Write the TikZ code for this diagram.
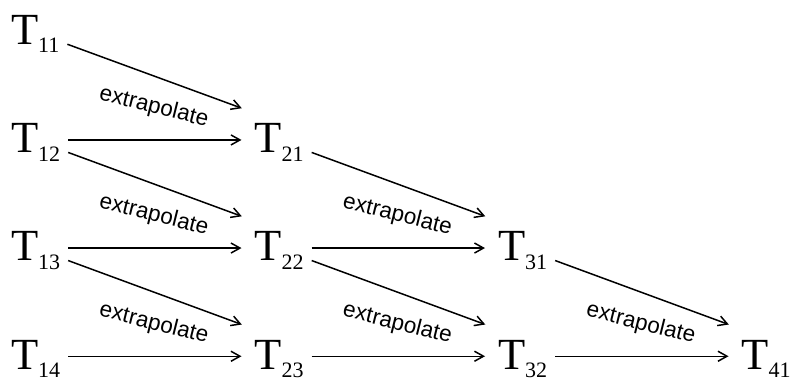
\documentclass[tikz,border=0pt]{standalone}
\usepackage{fontspec}
\setmainfont{Liberation Serif}
\newfontfamily\arialfont{Liberation Sans}
\usepackage{tikz}
\usetikzlibrary{arrows.meta, calc}

\newcommand{\Tsub}[1]{T\raisebox{-8.5pt}{\fontsize{22}{22}\selectfont #1}}

\tikzset{
  tnode/.style={inner sep=0pt, outer xsep=8pt, outer ysep=0pt, text height=29.5pt,
    text depth=4pt, anchor=base west, font=\fontsize{44.5}{44.5}\selectfont},
  arr/.style={line width=1.5pt, -{Straight Barb[length=9pt, width=10pt]}, shorten >=5pt},
  lbl/.style={font=\arialfont\fontsize{22.5}{22.5}\selectfont, inner sep=0pt,
    xshift=-3.5pt, yshift=32.5pt, rotate=-14}
}

\begin{document}
\begin{tikzpicture}[x=1pt, y=1pt]

      \useasboundingbox (0,0) rectangle (790,381);

      % first column
      \node[tnode] (t11) at (3,336.5) {\Tsub{11}};
      \node[tnode] (t12) at (3,228.3) {\Tsub{12}};
      \node[tnode] (t13) at (3,120.2) {\Tsub{13}};
      \node[tnode] (t14) at (3,12) {\Tsub{14}};

      % second column
      \node[tnode] (t21) at (246.5,228.3) {\Tsub{21}};
      \node[tnode] (t22) at (246.5,120.2) {\Tsub{22}};
      \node[tnode] (t23) at (246.5,12) {\Tsub{23}};

      % third and fourth column
      \node[tnode] (t31) at (490,120.2) {\Tsub{31}};
      \node[tnode] (t32) at (490,12) {\Tsub{32}};
      \node[tnode] (t41) at (733.5,12) {\Tsub{41}};

      % straight arrows
      \draw[arr] (t12) -- node[lbl] (e1) {extrapolate} (t21);
      \draw[arr] (t13) -- node[lbl] (e2) {extrapolate} (t22);
      \draw[arr] (t14) -- node[lbl] (e3) {extrapolate} (t23);
      \draw[arr] (t22) -- node[lbl] (e4) {extrapolate} (t31);
      \draw[arr] (t23) -- node[lbl] (e5) {extrapolate} (t32);
      \draw[arr] (t32) -- node[lbl] (e6) {extrapolate} (t41);

      % slanted arrows
      \draw[arr] ([yshift=-12.5pt]t11.east) -- ([yshift=30pt]t21.west);
      \draw[arr] ([yshift=-12.5pt]t12.east) -- ([yshift=30pt]t22.west);
      \draw[arr] ([yshift=-12.5pt]t13.east) -- ([yshift=30pt]t23.west);
      \draw[arr] ([yshift=-12.5pt]t21.east) -- ([yshift=30pt]t31.west);
      \draw[arr] ([yshift=-12.5pt]t22.east) -- ([yshift=30pt]t32.west);
      \draw[arr] ([yshift=-12.5pt]t31.east) -- ([yshift=30pt]t41.west);

    \end{tikzpicture}
\end{document}
